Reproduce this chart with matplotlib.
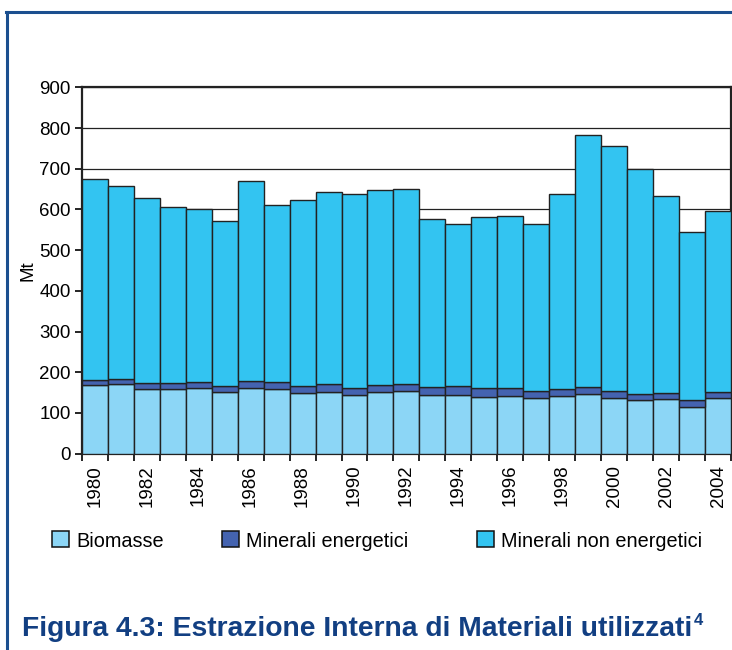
import matplotlib
matplotlib.use('Agg')
import matplotlib.pyplot as plt
import numpy as np
from matplotlib.lines import Line2D
from matplotlib.patches import Rectangle

plt.rcParams['font.family'] = ['Liberation Sans', 'DejaVu Sans']

# Dati (Mt)
anni = list(range(1980, 2005))
totale = [674, 658, 629, 606, 602, 572, 669, 611, 624, 643, 638, 647, 651,
          576, 563, 582, 585, 565, 638, 783, 755, 699, 632, 544, 596]
top_energetici = [181, 183, 174, 173, 175, 166, 178, 175, 166, 170, 161, 169, 171,
                  164, 166, 161, 161, 155, 159, 164, 154, 147, 150, 131, 152]
biomasse = [168, 170, 159, 159, 161, 151, 162, 158, 148, 152, 143, 151, 153,
            144, 144, 139, 141, 136, 141, 146, 138, 131, 134, 115, 138]

energetici = [e - b for e, b in zip(top_energetici, biomasse)]
non_energetici = [t - e for t, e in zip(totale, top_energetici)]

etichette = ['Biomasse', 'Minerali energetici', 'Minerali non energetici']
colori = ['#8cd6f6', '#4463b0', '#33c4f1']

W, H = 732, 650
fig = plt.figure(figsize=(W / 100, H / 100), dpi=100)
ax = fig.add_axes([81.7 / W, 1 - 453.7 / H, 649.5 / W, 366.4 / H])

x = np.arange(len(anni))
b1 = np.array(biomasse)
b2 = b1 + np.array(energetici)
ax.bar(x, biomasse, width=1.0, color=colori[0], edgecolor='#222222', linewidth=1.0, zorder=3)
ax.bar(x, energetici, bottom=b1, width=1.0, color=colori[1], edgecolor='#222222', linewidth=1.0, zorder=3)
ax.bar(x, non_energetici, bottom=b2, width=1.0, color=colori[2], edgecolor='#222222', linewidth=1.0, zorder=3)

ax.set_xlim(-0.5, len(anni) - 0.5)
ax.set_ylim(0, 900)
ax.set_yticks(range(0, 901, 100))
ax.yaxis.grid(True, color='#222222', linewidth=0.9, zorder=0)
ax.set_axisbelow(True)

ax.set_xticks(x[::2])
ax.set_xticklabels([str(a) for a in anni[::2]], rotation=90, fontsize=13.5)
ax.set_xticks(np.arange(-0.5, len(anni), 1), minor=True)
ax.tick_params(axis='x', which='major', length=0, pad=8)
ax.tick_params(axis='x', which='minor', length=5, width=1.2, direction='out')
ax.tick_params(axis='y', length=5, width=1.2, labelsize=13.5, pad=3)
for s in ax.spines.values():
    s.set_linewidth(1.6)
    s.set_color('#222222')

ax.set_ylabel('Mt', fontsize=13.5, labelpad=2)

# Legenda manuale
leg_x = [52.3, 222.3, 477.3]
txt_x = [76, 246, 500.7]
for xi, tx, lab, col in zip(leg_x, txt_x, etichette, colori):
    fig.patches.append(Rectangle((xi / W, 1 - 547.3 / H), 16.5 / W, 16.5 / H,
                                 transform=fig.transFigure, facecolor=col,
                                 edgecolor='#111111', linewidth=1.1))
    fig.text(tx / W, 1 - 547 / H, lab, fontsize=14.3, va='baseline', ha='left')

# Cornice blu
blu = '#1b4f8f'
fig.add_artist(Line2D([6 / W, 1], [1 - 12 / H, 1 - 12 / H], color=blu, linewidth=2.2,
                      transform=fig.transFigure))
fig.add_artist(Line2D([7.5 / W, 7.5 / W], [1 - 12 / H, 0], color=blu, linewidth=2.2,
                      transform=fig.transFigure))

# Didascalia
blu_testo = '#123f82'
cap = fig.text(22 / W, 1 - 636 / H, 'Figura 4.3: Estrazione Interna di Materiali utilizzati',
               fontsize=20.3, fontweight='bold', color=blu_testo, va='baseline', ha='left')
fig.canvas.draw()
bb = cap.get_window_extent()
fig.text((bb.x1 + 1) / W, 1 - 625 / H, '4', fontsize=12, fontweight='bold', color=blu_testo,
         va='baseline', ha='left')

fig.savefig('out.png', dpi=100)
